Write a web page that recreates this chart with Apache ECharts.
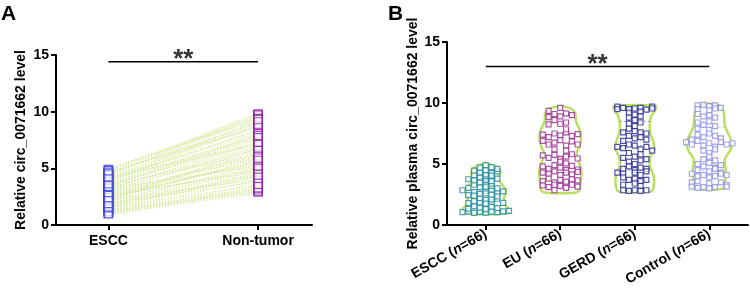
<!DOCTYPE html>
<html>
<head>
<meta charset="utf-8">
<script src="https://cdn.jsdelivr.net/npm/echarts@6/dist/echarts.min.js"></script>
<style>
    html, body { margin: 0; padding: 0; background: #fff; }
    #chart { width: 750px; height: 289px; }
</style>
</head>
<body>
<div id="chart"></div>
<script>
    // ---- panel A: paired tissue levels ----
    const tissueCategories = ['ESCC', 'Non-tumor']
    const tissueEscc = [1.05, 2.3, 3.6, 4.8, 1.6, 2.9, 4.1, 0.95, 3.2, 2.1, 4.5, 1.3, 3.8, 2.6, 5.0, 1.9, 3.4, 2.45, 4.2, 1.15,
        2.75, 3.95, 1.75, 4.65, 3.05, 2.2, 1.45, 3.7, 4.35, 2.55, 1.85, 3.25, 4.9, 1.25, 2.95, 4.05, 3.5, 1.55, 2.4, 4.55,
        3.15, 1.95, 2.85, 3.85, 1.35, 4.75, 2.65, 3.45, 1.1, 4.25, 2.05, 3.65, 2.5, 1.65, 4.45, 3.3, 2.15, 0.9, 3.9, 2.7,
        4.6, 1.5, 3.55, 2.25, 4.15, 1.8]
    const tissueNonTumor = [3.0, 5.6, 7.4, 9.6, 4.2, 6.1, 8.3, 2.8, 5.2, 6.8, 9.9, 3.6, 8.9, 4.7, 9.3, 5.0, 7.9, 6.4, 7.1, 3.3,
        5.9, 9.1, 4.5, 8.6, 6.6, 4.0, 3.9, 7.7, 9.7, 5.4, 4.8, 7.0, 9.8, 2.9, 6.9, 8.1, 6.3, 4.4, 5.7, 9.0,
        7.3, 3.8, 6.2, 8.4, 3.1, 9.5, 5.5, 7.6, 3.4, 8.7, 5.3, 8.0, 4.9, 4.6, 9.4, 6.7, 5.1, 3.2, 7.8, 6.0,
        8.8, 3.5, 7.2, 5.8, 9.2, 4.3]

    // ---- panel B: plasma levels, [column, value] ----
    const plasmaCategories = ['ESCC', 'EU', 'GERD', 'Control']
    const plasmaN = [66, 66, 66, 66]
    const plasmaEscc = [[-4, 1.05], [-3, 1.12], [-2, 1.0], [-1, 1.08], [0, 1.02], [1, 1.1], [2, 1.05], [3, 1.12], [4, 1.15],
        [-3, 1.35], [-1, 1.42], [0, 1.3], [1, 1.5], [2, 1.38], [-2, 1.55],
        [-3, 1.8], [-2, 1.95], [-1, 1.85], [0, 2.05], [1, 1.9], [2, 2.15], [3, 1.82], [-1, 2.2], [1, 2.1], [0, 1.75],
        [-3, 2.45], [-2, 2.7], [-1, 2.55], [0, 2.8], [1, 2.5], [2, 2.65], [3, 2.75], [-4, 2.85], [-2, 2.4], [1, 2.9], [2, 2.35], [0, 2.6],
        [-3, 3.05], [-2, 3.3], [-1, 3.1], [0, 3.45], [1, 3.2], [2, 3.0], [-1, 3.5], [1, 3.4], [0, 3.15],
        [-2, 3.65], [-1, 3.9], [0, 3.7], [1, 3.95], [2, 3.8], [-3, 3.75], [0, 4.0], [1, 3.6],
        [-2, 4.1], [-1, 4.3], [0, 4.15], [1, 4.25], [2, 4.4], [-2, 4.45], [0, 4.5], [1, 4.05],
        [-1, 4.7], [0, 4.9], [1, 4.75], [2, 4.6]]
    const plasmaEu = [[-2, 9.35], [0, 9.6], [-1, 9.1], [1, 9.15], [2, 9.0],
        [-2, 8.85], [-1, 8.6], [0, 8.9], [1, 8.4], [-2, 8.25], [0, 8.3],
        [-3, 7.4], [-2, 7.2], [-1, 7.5], [0, 7.35], [1, 7.6], [2, 7.3], [3, 7.45], [1, 7.85],
        [-3, 6.9], [-2, 6.6], [-1, 6.75], [0, 6.95], [1, 6.5], [2, 6.85], [3, 6.6], [-1, 6.2], [1, 6.1],
        [-3, 5.7], [-2, 5.5], [-1, 5.75], [0, 5.4], [1, 5.6], [2, 5.8], [3, 5.45], [0, 5.2], [1, 5.05],
        [-3, 4.8], [-2, 4.6], [-1, 4.9], [0, 4.7], [1, 4.5], [2, 4.85], [3, 4.55],
        [-3, 4.3], [-2, 4.2], [-1, 4.4], [0, 4.1], [1, 4.3], [2, 4.15], [3, 4.35],
        [-3, 3.6], [-2, 3.8], [-1, 3.5], [0, 3.7], [1, 3.55], [2, 3.75], [3, 3.65],
        [-3, 3.25], [-2, 3.1], [-1, 3.3], [0, 3.2], [1, 3.05], [2, 3.3], [3, 3.15], [-1, 2.85]]
    const plasmaGerd = [[-3, 9.7], [-2, 9.6], [-1, 9.5], [0, 9.55], [1, 9.6], [2, 9.45], [3, 9.7], [-3, 9.5], [3, 9.55],
        [-1, 9.2], [0, 9.05], [1, 9.3], [-1, 8.8], [0, 8.6], [1, 8.9],
        [-1, 8.3], [0, 8.1], [1, 8.4], [-1, 7.9], [0, 7.7], [1, 7.6], [-2, 7.6], [2, 7.5],
        [-1, 7.3], [0, 7.1], [1, 7.2], [-2, 6.9], [2, 7.0],
        [-3, 6.4], [-2, 6.3], [-1, 6.6], [0, 6.5], [1, 6.2], [2, 6.4], [3, 6.1],
        [-1, 5.9], [0, 5.6], [1, 5.8], [-2, 5.5], [2, 5.4], [-1, 5.2], [0, 5.0], [1, 5.3],
        [-2, 4.6], [-1, 4.8], [0, 4.5], [1, 4.7], [2, 4.6], [-3, 4.3], [-2, 4.2], [0, 4.3], [1, 4.1], [2, 4.4],
        [-2, 3.9], [-1, 3.7], [0, 3.8], [1, 3.6], [2, 3.7],
        [-2, 3.3], [0, 3.4], [1, 3.2],
        [-2, 2.85], [-1, 2.8], [0, 2.85], [1, 2.8], [2, 2.85]]
    const plasmaControl = [[-2, 9.8], [-1, 9.85], [0, 9.75], [1, 9.8], [2, 9.6], [-2, 9.5], [0, 9.4], [1, 9.55],
        [-2, 9.1], [-1, 8.9], [0, 9.0], [1, 8.8],
        [-2, 8.4], [-1, 8.2], [0, 8.5], [1, 8.1], [-2, 7.9], [0, 7.8],
        [-2, 7.4], [-1, 7.2], [0, 7.5], [1, 7.3], [2, 7.1], [-3, 7.0],
        [-4, 6.8], [-3, 6.6], [-2, 6.9], [-1, 6.5], [0, 6.7], [1, 6.4], [2, 6.8], [3, 6.6], [4, 6.7],
        [-1, 6.1], [0, 5.9], [1, 6.2], [0, 5.6], [-1, 5.4], [1, 5.3],
        [-2, 5.0], [-1, 4.8], [0, 5.1], [1, 4.7], [2, 4.9], [-2, 4.5], [0, 4.4], [1, 4.6], [2, 4.3],
        [-3, 4.2], [-2, 4.0], [-1, 4.1], [0, 3.9], [1, 4.0], [2, 4.2], [3, 4.1],
        [-3, 3.5], [-2, 3.6], [0, 3.4], [2, 3.5], [3, 3.3],
        [-3, 3.15], [-2, 3.05], [-1, 3.1], [0, 3.0], [1, 3.1], [3, 3.15]]

    // violin outlines: [value, half width in category units]
    const violinEscc = [[0.95, 0.29], [1.3, 0.31], [1.8, 0.24], [2.3, 0.25], [2.8, 0.27], [3.3, 0.22], [3.8, 0.17], [4.3, 0.2], [4.7, 0.16], [4.98, 0.06]]
    const violinEu = [[2.65, 0.2], [2.9, 0.26], [3.4, 0.27], [4.0, 0.28], [4.6, 0.28], [5.3, 0.24], [5.9, 0.22], [6.5, 0.26], [7.2, 0.28], [7.8, 0.26], [8.5, 0.21], [9.2, 0.2], [9.55, 0.14], [9.72, 0.04]]
    const violinGerd = [[2.75, 0.22], [3.1, 0.25], [3.7, 0.26], [4.3, 0.24], [4.9, 0.2], [5.6, 0.21], [6.2, 0.26], [6.8, 0.25], [7.5, 0.21], [8.2, 0.2], [8.9, 0.22], [9.4, 0.27], [9.75, 0.28]]
    const violinControl = [[3.0, 0.2], [3.4, 0.21], [4.0, 0.22], [4.6, 0.22], [5.4, 0.21], [6.1, 0.28], [6.7, 0.31], [7.3, 0.27], [8.1, 0.21], [8.9, 0.2], [9.5, 0.18], [9.9, 0.09]]
    const quartEscc = [1.6, 2.6, 3.8]
    const quartEu = [4.3, 5.7, 7.4]
    const quartGerd = [4.5, 6.5, 8.5]
    const quartControl = [4.5, 6.7, 8.0]

    const FONT = 'Liberation Sans, Arial, sans-serif'
    const colorsB = ['#1f8a9c', '#992b8e', '#25258f', '#8f8fe6']
    const pointsB = [plasmaEscc, plasmaEu, plasmaGerd, plasmaControl]
    const violinsB = [violinEscc, violinEu, violinGerd, violinControl]
    const quartsB = [quartEscc, quartEu, quartGerd, quartControl]
    const colStep = 0.078

    let myChart = echarts.init(document.getElementById('chart'))

    let yAxisBase = (name, gap) => ({
        type: 'value',
        min: 0,
        max: 15,
        interval: 5,
        name: name,
        nameLocation: 'middle',
        nameGap: gap,
        nameTextStyle: { color: '#000', fontWeight: 'bold', fontSize: 14, fontFamily: FONT },
        axisLine: { show: true, onZero: false, lineStyle: { color: '#000', width: 2 } },
        axisTick: { show: true, length: 5, lineStyle: { color: '#000', width: 2 } },
        axisLabel: { color: '#000', fontWeight: 'bold', fontSize: 14, fontFamily: FONT, margin: 7 },
        splitLine: { show: false }
    })

    let series = []
    // paired dotted lines
    tissueEscc.forEach((v, i) => {
        series.push({
            type: 'line', xAxisIndex: 0, yAxisIndex: 0, silent: true, symbol: 'none',
            data: [[0, v], [1, tissueNonTumor[i]]],
            lineStyle: { color: '#cfe68e', width: 0.8, type: [1.5, 1.5] },
            z: 1
        })
    })
    series.push({
        type: 'scatter', xAxisIndex: 0, yAxisIndex: 0, symbol: 'rect', symbolSize: [8, 6],
        data: tissueEscc.map(v => [0, v]),
        itemStyle: { color: '#fff', borderColor: '#3a3fdc', borderWidth: 1.4 }, z: 3
    })
    series.push({
        type: 'scatter', xAxisIndex: 0, yAxisIndex: 0, symbol: 'rect', symbolSize: [8, 6],
        data: tissueNonTumor.map(v => [1, v]),
        itemStyle: { color: '#fff', borderColor: '#8a1fa6', borderWidth: 1.4 }, z: 3
    })
    // significance A
    series.push({
        type: 'line', xAxisIndex: 0, yAxisIndex: 0, symbol: 'none', silent: true,
        data: [[0, 14.4], [1, 14.4]], lineStyle: { color: '#000', width: 1.5 }
    })
    series.push({
        type: 'scatter', xAxisIndex: 0, yAxisIndex: 0, symbolSize: 0, silent: true,
        data: [[0.5, 14.4]],
        label: { show: true, formatter: '**', position: 'top', distance: -11, color: '#000', fontSize: 26, fontWeight: 'bold', fontFamily: FONT }
    })

    // violins B
    series.push({
        type: 'custom', xAxisIndex: 1, yAxisIndex: 1, silent: true, z: 1,
        data: [[0], [1], [2], [3]],
        renderItem: (params, api) => {
            let gi = api.value(0)
            let prof = violinsB[gi]
            let left = prof.map(p => api.coord([gi - p[1], p[0]]))
            let right = prof.slice().reverse().map(p => api.coord([gi + p[1], p[0]]))
            let children = [{
                type: 'polygon',
                shape: { points: left.concat(right), smooth: 0.35 },
                style: { fill: '#fff', stroke: '#b9e160', lineWidth: 2.5 }
            }]
            quartsB[gi].forEach(q => {
                let a = api.coord([gi - 0.2, q]), b = api.coord([gi + 0.2, q])
                children.push({
                    type: 'line',
                    shape: { x1: a[0], y1: a[1], x2: b[0], y2: b[1] },
                    style: { stroke: colorsB[gi], lineWidth: 0.8, lineDash: [2, 2], opacity: 0.6 }
                })
            })
            return { type: 'group', children: children }
        }
    })
    pointsB.forEach((pts, gi) => {
        series.push({
            type: 'scatter', xAxisIndex: 1, yAxisIndex: 1, symbol: 'rect', symbolSize: 5, z: 3,
            data: pts.map(p => [gi + p[0] * colStep, p[1]]),
            itemStyle: { color: '#fff', borderColor: colorsB[gi], borderWidth: 1.2 }
        })
    })
    // significance B
    series.push({
        type: 'line', xAxisIndex: 1, yAxisIndex: 1, symbol: 'none', silent: true,
        data: [[0, 13], [3, 13]], lineStyle: { color: '#000', width: 1.5 }
    })
    series.push({
        type: 'scatter', xAxisIndex: 1, yAxisIndex: 1, symbolSize: 0, silent: true,
        data: [[1.5, 13]],
        label: { show: true, formatter: '**', position: 'top', distance: -11, color: '#000', fontSize: 26, fontWeight: 'bold', fontFamily: FONT }
    })

    let option = {
        animation: false,
        backgroundColor: '#fff',
        textStyle: { fontFamily: FONT },
        grid: [
            { left: 56, top: 55, width: 256, height: 170 },
            { left: 447, top: 42, width: 301, height: 183 }
        ],
        xAxis: [
            {
                type: 'value', gridIndex: 0, min: -0.35, max: 1.36,
                axisLine: { onZero: false, lineStyle: { color: '#000', width: 2 } },
                axisTick: { show: true, length: 5, customValues: [0, 1], lineStyle: { color: '#000', width: 2 } },
                axisLabel: {
                    customValues: [0, 1], color: '#000', fontWeight: 'bold', fontSize: 14, fontFamily: FONT, margin: 9,
                    formatter: v => tissueCategories[Math.round(v)]
                },
                splitLine: { show: false }
            },
            {
                type: 'value', gridIndex: 1, min: -0.52, max: 3.52,
                axisLine: { onZero: false, lineStyle: { color: '#000', width: 2 } },
                axisTick: { show: true, length: 5, customValues: [0, 1, 2, 3], lineStyle: { color: '#000', width: 2 } },
                axisLabel: {
                    customValues: [0, 1, 2, 3], rotate: 30, margin: 8,
                    formatter: v => {
                        let i = Math.round(v)
                        return '{b|' + plasmaCategories[i] + ' (}{i|n}{b|=' + plasmaN[i] + ')}'
                    },
                    rich: {
                        b: { color: '#000', fontWeight: 'bold', fontSize: 14, fontFamily: FONT },
                        i: { color: '#000', fontWeight: 'bold', fontStyle: 'italic', fontSize: 14, fontFamily: FONT }
                    }
                },
                splitLine: { show: false }
            }
        ],
        yAxis: [
            Object.assign(yAxisBase('Relative circ_0071662 level', 28), { gridIndex: 0 }),
            Object.assign(yAxisBase('Relative plasma circ_0071662 level', 26), { gridIndex: 1 })
        ],
        graphic: [
            { type: 'text', left: 1, top: 4, style: { text: 'A', font: 'bold 21px ' + FONT, fill: '#000' } },
            { type: 'text', left: 388, top: 4, style: { text: 'B', font: 'bold 21px ' + FONT, fill: '#000' } }
        ],
        series: series
    }
    myChart.setOption(option)
</script>
</body>
</html>
